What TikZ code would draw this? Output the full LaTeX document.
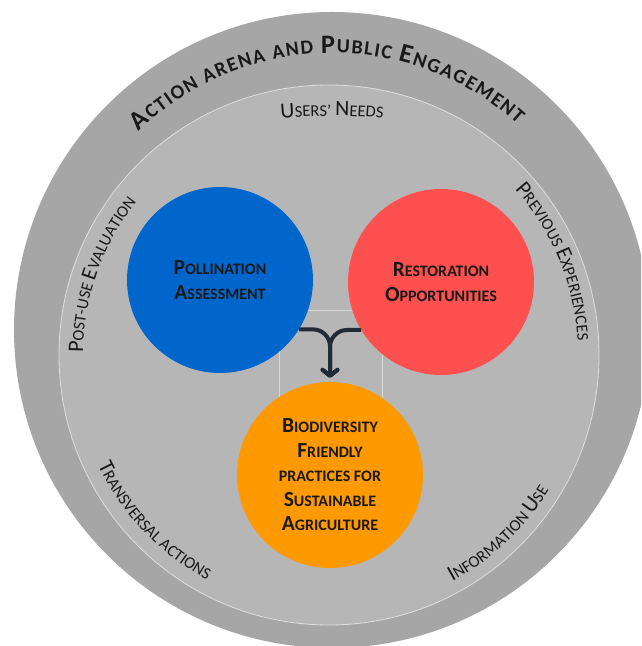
\documentclass[tikz,border=0pt]{standalone}
\usepackage{fontspec}
\setmainfont{Carlito}
\usetikzlibrary{positioning}
\usetikzlibrary{decorations.text}
\usetikzlibrary{arrows.meta}
\definecolor{ringgray}{RGB}{166,166,166}
\definecolor{coregray}{RGB}{182,182,182}
\definecolor{pollblue}{RGB}{0,102,204}
\definecolor{restored}{RGB}{255,80,80}
\definecolor{bioorange}{RGB}{255,153,0}
\definecolor{iconnavy}{RGB}{34,42,53}
\newcommand\titlebig{\bfseries\fontsize{26.5}{26.5}\selectfont}
\newcommand\titlesmall{\bfseries\fontsize{20}{20}\selectfont}
\newcommand\lblbig{\fontsize{22}{22}\selectfont}
\newcommand\lblsmall{\fontsize{16.5}{16.5}\selectfont}
\newcommand\nodebig{\fontsize{21.5}{24.5}\selectfont}

\begin{document}
\begin{tikzpicture}[x=1pt,y=1pt,
    blob/.style={circle,minimum size=186pt,inner sep=0pt,align=center,text=black!90,
        font=\bfseries\fontsize{16}{24.5}\selectfont},
    merge/.style={draw=iconnavy,line width=4pt,rounded corners=17pt,
        -{Straight Barb[length=6pt,width=15pt,round]},shorten >=4pt},
    arclabel/.style={decorate,decoration={text along path,text align=center,
        text color=black!90,text={#1}}}]
    \useasboundingbox (0,0) rectangle (641,646);
    \clip (0,0) rectangle (641,646);
    \node[circle,fill=ringgray,minimum size=636pt,inner sep=0pt] (arena) at (332,316) {};
    \node[circle,fill=coregray,draw=white!55!coregray,line width=0.8pt,minimum size=540pt,inner sep=0pt] (core) at (329,291) {};
    \node[draw=white!45!coregray,line width=0.8pt,minimum width=103pt,minimum height=105pt,inner sep=0pt] (frame) at (330.5,283.5) {};
    \node[blob,fill=pollblue] (poll) at (220,366) {{\nodebig P}OLLINATION\\{\nodebig A}SSESSMENT};
    \node[blob,fill=restored] (resto) at (441,364) {{\nodebig R}ESTORATION\\{\nodebig O}PPORTUNITIES};
    \node[blob,fill=bioorange] (bio) at (330,171) {{\nodebig B}IODIVERSITY\\{\nodebig F}RIENDLY\\PRACTICES FOR\\{\nodebig S}USTAINABLE\\{\nodebig A}GRICULTURE};
    \draw[merge] (poll.-32.6) -| (bio.north);
    \draw[merge] (resto.211) -| (bio.north);
    \path[arclabel={|\titlebig|A|\titlesmall|CTION ARENA AND |\titlebig|P|\titlesmall|UBLIC |\titlebig|E|\titlesmall|NGAGEMENT},decoration={text align=fit to path}]
        ([shift={(332,316)}]134.3:277) arc[start angle=134.3,end angle=48,radius=277];
    \path[arclabel={|\lblbig|U|\lblsmall|SERS’ |\lblbig|N|\lblsmall|EEDS}]
        ([shift={(332,-70)}]100:600) arc[start angle=100,end angle=80,radius=600];
    \path[arclabel={|\lblbig|P|\lblsmall|REVIOUS |\lblbig|E|\lblsmall|XPERIENCES}]
        ([shift={(329,291)}]82.5:249) arc[start angle=82.5,end angle=-37.5,radius=249];
    \path[arclabel={|\lblbig|P|\lblsmall|OST-USE |\lblbig|E|\lblsmall|VALUATION}]
        ([shift={(329,291)}]220.5:246) arc[start angle=220.5,end angle=100.5,radius=246];
    \path[arclabel={|\lblbig|T|\lblsmall|RANSVERSAL ACTIONS}]
        ([shift={(329,291)}]163.5:256) arc[start angle=163.5,end angle=283.5,radius=256];
    \path[arclabel={|\lblbig|I|\lblsmall|NFORMATION |\lblbig|U|\lblsmall|SE}]
        ([shift={(329,291)}]-106.5:258) arc[start angle=-106.5,end angle=13.5,radius=258];
\end{tikzpicture}
\end{document}
